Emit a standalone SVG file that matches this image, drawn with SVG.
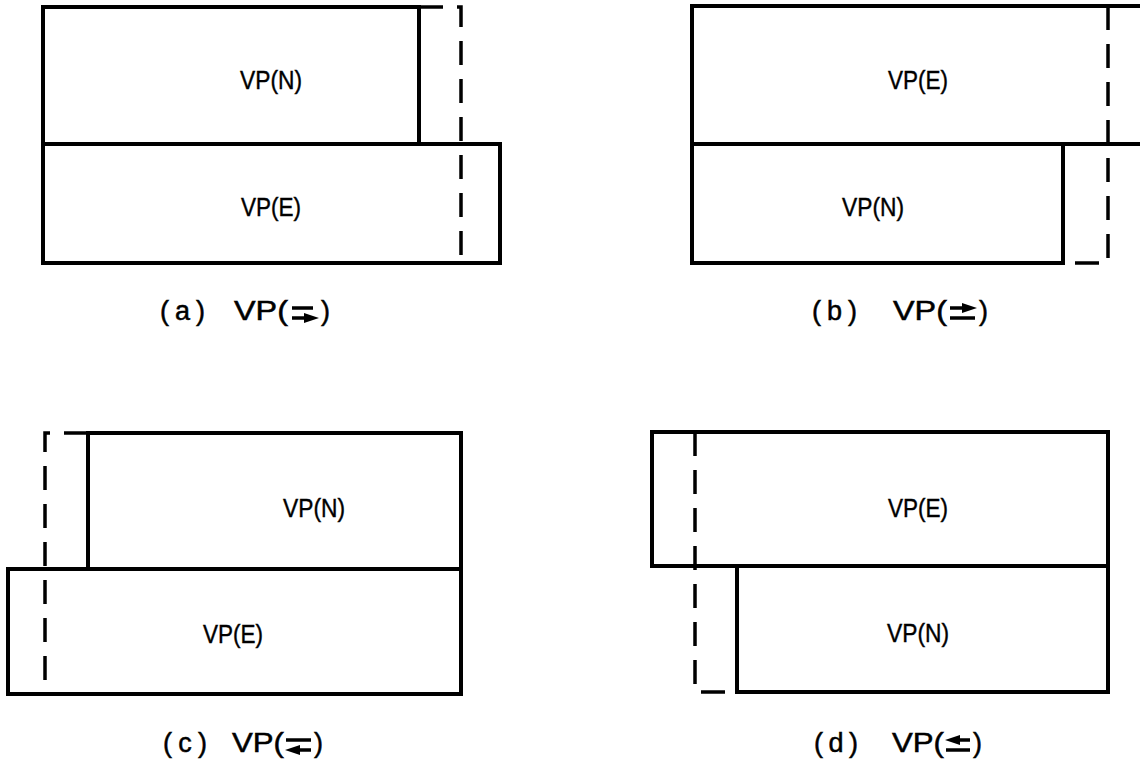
<svg xmlns="http://www.w3.org/2000/svg" width="1140" height="759" viewBox="0 0 1140 759">
<style>
.box{fill:none;stroke:#000;stroke-width:4;stroke-linejoin:miter}
.dash{fill:none;stroke:#000;stroke-width:3.5;stroke-dasharray:24 14}
.lbl{font-family:"Liberation Sans",Arial,sans-serif;font-size:26px;fill:#000;stroke:#000;stroke-width:0.4;text-anchor:middle}
.cap{font-family:"Liberation Sans",Arial,sans-serif;font-size:27px;fill:#000;stroke:#000;stroke-width:0.5}
.sym{stroke:#000;stroke-width:3.5;fill:none}
</style>
<rect width="1140" height="759" fill="#fff"/>

<g id="panel-a">
  <g id="a-vpn"><rect class="box" x="43" y="7" width="376" height="137"/><text class="lbl" x="271" y="89" textLength="62" lengthAdjust="spacingAndGlyphs">VP(N)</text></g>
  <g id="a-vpe"><rect class="box" x="43" y="144" width="457" height="119"/><text class="lbl" x="271" y="216" textLength="60" lengthAdjust="spacingAndGlyphs">VP(E)</text></g>
  <path class="dash" d="M419,7 H461 V263"/>
  <g id="a-cap">
    <text class="cap" x="160" y="320" textLength="45">(a)</text>
    <text class="cap" x="234" y="320" textLength="54" lengthAdjust="spacingAndGlyphs">VP(</text>
    <line class="sym" x1="292" y1="308" x2="313" y2="308"/>
    <line class="sym" x1="292" y1="318" x2="308" y2="318"/>
    <polygon points="304,313 319,318 304,323"/>
    <text class="cap" x="321" y="320">)</text>
  </g>
</g>

<g id="panel-b">
  <g id="b-vpe"><path class="box" d="M1142,6 H692 V144 H1142"/><text class="lbl" x="918" y="89" textLength="60" lengthAdjust="spacingAndGlyphs">VP(E)</text></g>
  <g id="b-vpn"><rect class="box" x="692" y="144" width="371" height="119"/><text class="lbl" x="873" y="216" textLength="62" lengthAdjust="spacingAndGlyphs">VP(N)</text></g>
  <path class="dash" d="M1108,6 V263 H1063"/>
  <g id="b-cap">
    <text class="cap" x="812" y="320" textLength="45">(b)</text>
    <text class="cap" x="893" y="320" textLength="54" lengthAdjust="spacingAndGlyphs">VP(</text>
    <line class="sym" x1="950" y1="308" x2="966" y2="308"/>
    <polygon points="962,303 977,308 962,313"/>
    <line class="sym" x1="950" y1="318" x2="975" y2="318"/>
    <text class="cap" x="979" y="320">)</text>
  </g>
</g>

<g id="panel-c">
  <g id="c-vpn"><rect class="box" x="88" y="433" width="373" height="136"/><text class="lbl" x="314" y="517" textLength="62" lengthAdjust="spacingAndGlyphs">VP(N)</text></g>
  <g id="c-vpe"><rect class="box" x="8" y="569" width="453" height="125"/><text class="lbl" x="233" y="643" textLength="60" lengthAdjust="spacingAndGlyphs">VP(E)</text></g>
  <path class="dash" d="M88,433 H45 V694"/>
  <g id="c-cap">
    <text class="cap" x="163" y="752" textLength="44">(c)</text>
    <text class="cap" x="232" y="752" textLength="52" lengthAdjust="spacingAndGlyphs">VP(</text>
    <line class="sym" x1="286" y1="740" x2="311" y2="740"/>
    <line class="sym" x1="296" y1="750" x2="311" y2="750"/>
    <polygon points="300,745 285,750 300,755"/>
    <text class="cap" x="314" y="752">)</text>
  </g>
</g>

<g id="panel-d">
  <g id="d-vpe"><rect class="box" x="652" y="432" width="456" height="134"/><text class="lbl" x="918" y="517" textLength="60" lengthAdjust="spacingAndGlyphs">VP(E)</text></g>
  <g id="d-vpn"><rect class="box" x="737" y="566" width="371" height="126"/><text class="lbl" x="918" y="642" textLength="62" lengthAdjust="spacingAndGlyphs">VP(N)</text></g>
  <path class="dash" d="M695,432 V692 H737"/>
  <g id="d-cap">
    <text class="cap" x="814" y="752" textLength="44">(d)</text>
    <text class="cap" x="892" y="752" textLength="52" lengthAdjust="spacingAndGlyphs">VP(</text>
    <line class="sym" x1="956" y1="740" x2="970" y2="740"/>
    <polygon points="960,735 945,740 960,745"/>
    <line class="sym" x1="946" y1="750" x2="970" y2="750"/>
    <text class="cap" x="973" y="752">)</text>
  </g>
</g>
</svg>
